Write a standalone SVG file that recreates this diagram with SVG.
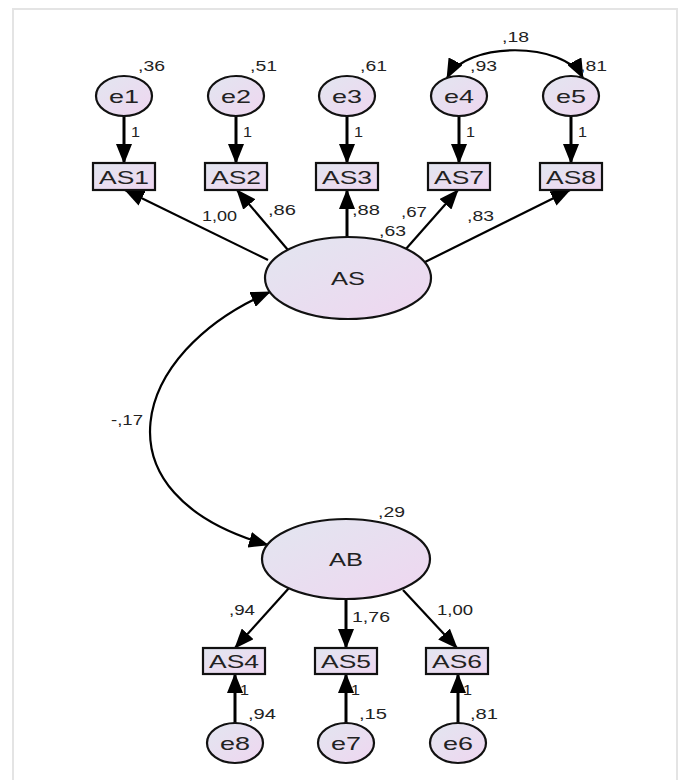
<svg xmlns="http://www.w3.org/2000/svg" width="690" height="780" viewBox="0 0 690 780">
<defs>
<linearGradient id="g" x1="0" y1="0" x2="1" y2="1">
<stop offset="0" stop-color="#e2e6f0"/>
<stop offset="1" stop-color="#efd6f0"/>
</linearGradient>
<marker id="ah" markerWidth="20" markerHeight="16" refX="19" refY="8" orient="auto-start-reverse" markerUnits="userSpaceOnUse">
<path d="M0,0 L20,8 L0,16 z" fill="#000"/>
</marker>
<style>
.n{fill:url(#g);stroke:#111;stroke-width:2.2}
.t{font-family:"Liberation Sans",Arial,sans-serif;fill:#222}
.v{font-size:15.5px}
.lb{font-size:19px;text-anchor:middle}
.bx{font-size:18px;text-anchor:middle}
.c{fill:none;stroke:#000;stroke-width:2.2}
.cv{stroke-width:3}
.a{marker-end:url(#ah)}
.b{marker-start:url(#ah);marker-end:url(#ah)}
</style>
</defs>
<rect x="0" y="0" width="690" height="780" fill="#fff"/>
<rect x="13" y="9" width="664" height="800" fill="none" stroke="#e4e4e4" stroke-width="2"/>

<g id="connectors">
<path class="c cv a" d="M124,116 V163"/>
<path class="c cv a" d="M236,116 V163"/>
<path class="c cv a" d="M347,116 V163"/>
<path class="c cv a" d="M459,116 V163"/>
<path class="c cv a" d="M571,116 V163"/>
<path class="c b" d="M447,78 C466,41 564,41 583,78"/>
<path class="c a" d="M268,260 L125,190"/>
<path class="c a" d="M288,250 L237,190"/>
<path class="c cv a" d="M347,237 V190"/>
<path class="c a" d="M405,250 L458,190"/>
<path class="c a" d="M425,262 L570,190"/>
<path class="c b" d="M270,292 C130,352 92,495 268,545"/>
<path class="c a" d="M289,588 L235,648"/>
<path class="c cv a" d="M346,599 V648"/>
<path class="c a" d="M403,590 L457,648"/>
<path class="c cv a" d="M235,723 V674"/>
<path class="c cv a" d="M346,723 V674"/>
<path class="c cv a" d="M458,723 V674"/>
</g>

<g id="e1"><ellipse class="n" cx="124" cy="96" rx="28" ry="20"/><text class="t lb" x="124" y="103" textLength="30" lengthAdjust="spacingAndGlyphs">e1</text></g>
<g id="e2"><ellipse class="n" cx="236" cy="96" rx="28" ry="20"/><text class="t lb" x="236" y="103" textLength="30" lengthAdjust="spacingAndGlyphs">e2</text></g>
<g id="e3"><ellipse class="n" cx="347" cy="96" rx="28" ry="20"/><text class="t lb" x="347" y="103" textLength="30" lengthAdjust="spacingAndGlyphs">e3</text></g>
<g id="e4"><ellipse class="n" cx="459" cy="96" rx="28" ry="20"/><text class="t lb" x="459" y="103" textLength="30" lengthAdjust="spacingAndGlyphs">e4</text></g>
<g id="e5"><ellipse class="n" cx="571" cy="96" rx="28" ry="20"/><text class="t lb" x="571" y="103" textLength="30" lengthAdjust="spacingAndGlyphs">e5</text></g>

<g id="AS1"><rect class="n" x="93" y="163" width="62" height="27"/><text class="t bx" x="124" y="183.5" textLength="50" lengthAdjust="spacingAndGlyphs">AS1</text></g>
<g id="AS2"><rect class="n" x="205" y="163" width="62" height="27"/><text class="t bx" x="236" y="183.5" textLength="50" lengthAdjust="spacingAndGlyphs">AS2</text></g>
<g id="AS3"><rect class="n" x="316" y="163" width="62" height="27"/><text class="t bx" x="347" y="183.5" textLength="50" lengthAdjust="spacingAndGlyphs">AS3</text></g>
<g id="AS7"><rect class="n" x="428" y="163" width="62" height="27"/><text class="t bx" x="459" y="183.5" textLength="50" lengthAdjust="spacingAndGlyphs">AS7</text></g>
<g id="AS8"><rect class="n" x="540" y="163" width="62" height="27"/><text class="t bx" x="571" y="183.5" textLength="50" lengthAdjust="spacingAndGlyphs">AS8</text></g>

<g id="AS"><ellipse class="n" cx="348" cy="278" rx="83" ry="41"/><text class="t lb" x="348" y="285" textLength="34" lengthAdjust="spacingAndGlyphs">AS</text></g>
<g id="AB"><ellipse class="n" cx="346" cy="559" rx="84" ry="40"/><text class="t lb" x="346" y="566" textLength="34" lengthAdjust="spacingAndGlyphs">AB</text></g>

<g id="AS4"><rect class="n" x="203" y="648" width="62" height="26"/><text class="t bx" x="234" y="667.5" textLength="50" lengthAdjust="spacingAndGlyphs">AS4</text></g>
<g id="AS5"><rect class="n" x="315" y="648" width="62" height="26"/><text class="t bx" x="346" y="667.5" textLength="50" lengthAdjust="spacingAndGlyphs">AS5</text></g>
<g id="AS6"><rect class="n" x="426" y="648" width="62" height="26"/><text class="t bx" x="457" y="667.5" textLength="50" lengthAdjust="spacingAndGlyphs">AS6</text></g>

<g id="e8"><ellipse class="n" cx="235" cy="743" rx="28" ry="20"/><text class="t lb" x="235" y="750" textLength="30" lengthAdjust="spacingAndGlyphs">e8</text></g>
<g id="e7"><ellipse class="n" cx="346" cy="743" rx="28" ry="20"/><text class="t lb" x="346" y="750" textLength="30" lengthAdjust="spacingAndGlyphs">e7</text></g>
<g id="e6"><ellipse class="n" cx="458" cy="743" rx="28" ry="20"/><text class="t lb" x="458" y="750" textLength="30" lengthAdjust="spacingAndGlyphs">e6</text></g>

<g id="labels" class="t v">
<text x="138" y="71" textLength="27" lengthAdjust="spacingAndGlyphs">,36</text>
<text x="250" y="71" textLength="27" lengthAdjust="spacingAndGlyphs">,51</text>
<text x="360" y="71" textLength="27" lengthAdjust="spacingAndGlyphs">,61</text>
<text x="470" y="71" textLength="27" lengthAdjust="spacingAndGlyphs">,93</text>
<text x="580" y="71" textLength="27" lengthAdjust="spacingAndGlyphs">,81</text>
<text x="502" y="42" textLength="27" lengthAdjust="spacingAndGlyphs">,18</text>
<text x="131" y="137" textLength="9" lengthAdjust="spacingAndGlyphs">1</text>
<text x="243" y="137" textLength="9" lengthAdjust="spacingAndGlyphs">1</text>
<text x="354" y="137" textLength="9" lengthAdjust="spacingAndGlyphs">1</text>
<text x="466" y="137" textLength="9" lengthAdjust="spacingAndGlyphs">1</text>
<text x="578" y="137" textLength="9" lengthAdjust="spacingAndGlyphs">1</text>
<text x="202" y="221" textLength="35" lengthAdjust="spacingAndGlyphs">1,00</text>
<text x="268" y="215" textLength="28" lengthAdjust="spacingAndGlyphs">,86</text>
<text x="352" y="215" textLength="28" lengthAdjust="spacingAndGlyphs">,88</text>
<text x="401" y="217" textLength="26" lengthAdjust="spacingAndGlyphs">,67</text>
<text x="379" y="236" textLength="27" lengthAdjust="spacingAndGlyphs">,63</text>
<text x="467" y="221" textLength="27" lengthAdjust="spacingAndGlyphs">,83</text>
<text x="111" y="425" textLength="32" lengthAdjust="spacingAndGlyphs">-,17</text>
<text x="378" y="517" textLength="27" lengthAdjust="spacingAndGlyphs">,29</text>
<text x="229" y="615" textLength="26" lengthAdjust="spacingAndGlyphs">,94</text>
<text x="352" y="622" textLength="38" lengthAdjust="spacingAndGlyphs">1,76</text>
<text x="437" y="615" textLength="36" lengthAdjust="spacingAndGlyphs">1,00</text>
<text x="240" y="695" textLength="9" lengthAdjust="spacingAndGlyphs">1</text>
<text x="351" y="695" textLength="9" lengthAdjust="spacingAndGlyphs">1</text>
<text x="463" y="695" textLength="9" lengthAdjust="spacingAndGlyphs">1</text>
<text x="248" y="719" textLength="28" lengthAdjust="spacingAndGlyphs">,94</text>
<text x="359" y="719" textLength="28" lengthAdjust="spacingAndGlyphs">,15</text>
<text x="470" y="719" textLength="28" lengthAdjust="spacingAndGlyphs">,81</text>
</g>
</svg>
